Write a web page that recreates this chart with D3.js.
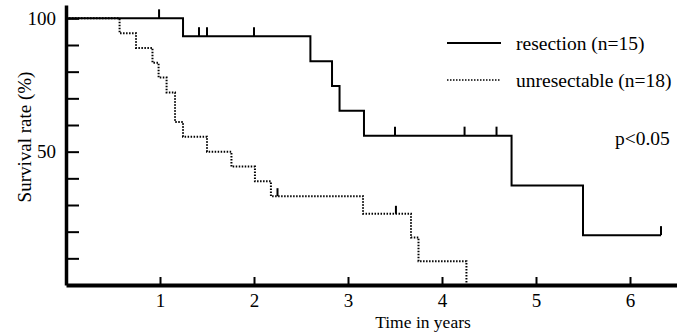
<!DOCTYPE html>
<html>
<head>
<meta charset="utf-8">
<script src="https://cdn.jsdelivr.net/npm/d3@7"></script>
<style>
  body { margin: 0; background: #fff; }
  svg { display: block; }
  text { font-family: "Liberation Serif", "Times New Roman", Times, serif; fill: #000; }
</style>
</head>
<body>
<svg id="chart" width="677" height="336"></svg>
<script>
'use strict';

var FONT = '"Liberation Serif", "Times New Roman", Times, serif';

// resection (n=15): step times (years) and survival (%) after each step
var resectionTimes = [0, 1.245, 2.6, 2.83, 2.91, 3.17, 4.74, 5.5];
var resectionSurv  = [100, 93.3, 83.9, 74.6, 65.3, 56.0, 37.3, 18.7];
var resectionEnd   = 6.33;
var resectionCensored = [0.99, 1.415, 1.5, 2.0, 3.5, 4.24, 4.58, 6.33];

// unresectable (n=18)
var unresTimes = [0, 0.57, 0.745, 0.92, 0.985, 1.07, 1.16, 1.245, 1.5, 1.76, 2.01, 2.18, 3.16, 3.67, 3.75, 4.26];
var unresSurv  = [100, 94.4, 88.9, 83.3, 77.8, 72.2, 61.1, 55.6, 50.0, 44.4, 38.9, 33.3, 26.7, 17.8, 8.9, 0];
var unresEnd   = 4.26;
var unresCensored = [2.25, 3.51];

var xTicks = [1, 2, 3, 4, 5, 6];
var yTicks = [10, 20, 30, 40, 50, 60, 70, 80, 90, 100];
var yLabels = [50, 100];

var legendNames = ['resection (n=15)', 'unresectable (n=18)'];

var svg = d3.select('#chart');

var x = d3.scaleLinear().domain([0, 6.5]).range([66, 677]);
var y = d3.scaleLinear().domain([0, 105]).range([285, 5]);

function toPoints(times, surv, end) {
  var pts = times.map(function(t, i) { return [t, surv[i]]; });
  pts.push([end, surv[surv.length - 1]]);
  return pts;
}

// value at time t for a step curve
function survAt(times, surv, t) {
  var v = surv[0];
  times.forEach(function(tt, i) { if (tt <= t) v = surv[i]; });
  return v;
}

var line = d3.line()
  .x(function(d) { return x(d[0]); })
  .y(function(d) { return y(d[1]); })
  .curve(d3.curveStepAfter);

// x axis
var xAxis = svg.append('g')
  .attr('transform', 'translate(0,' + y(0) + ')')
  .call(d3.axisBottom(x).tickValues(xTicks).tickSizeInner(-8).tickSizeOuter(0).tickPadding(9)
    .tickFormat(d3.format('d')));
xAxis.attr('font-family', FONT);
xAxis.select('.domain').attr('stroke-width', 4);
xAxis.selectAll('.tick line').attr('stroke-width', 2);
xAxis.selectAll('.tick text').attr('font-size', 19).attr('font-family', FONT).attr('fill', '#000');

// y axis
var yAxis = svg.append('g')
  .attr('transform', 'translate(' + x(0) + ',0)')
  .call(d3.axisLeft(y).tickValues(yTicks).tickSizeInner(-13).tickSizeOuter(0).tickPadding(10)
    .tickFormat(function(d) { return yLabels.indexOf(d) >= 0 ? d : ''; }));
yAxis.attr('font-family', FONT);
yAxis.select('.domain').attr('stroke-width', 3.5);
yAxis.selectAll('.tick line').attr('stroke-width', 2);
yAxis.selectAll('.tick text').attr('font-size', 19).attr('font-family', FONT).attr('fill', '#000')
  .attr('x', -10);

// curves
svg.append('path')
  .datum(toPoints(unresTimes, unresSurv, unresEnd))
  .attr('d', line)
  .attr('fill', 'none')
  .attr('stroke', '#000')
  .attr('stroke-width', 2)
  .attr('stroke-dasharray', '1.5,1.5');

svg.append('path')
  .datum(toPoints(resectionTimes, resectionSurv, resectionEnd))
  .attr('d', line)
  .attr('fill', 'none')
  .attr('stroke', '#000')
  .attr('stroke-width', 2);

// censor marks
svg.selectAll('.cens-r').data(resectionCensored).enter().append('line')
  .attr('class', 'cens-r')
  .attr('x1', function(d) { return x(d); })
  .attr('x2', function(d) { return x(d); })
  .attr('y1', function(d) { return y(survAt(resectionTimes, resectionSurv, d)); })
  .attr('y2', function(d) { return y(survAt(resectionTimes, resectionSurv, d)) - 9; })
  .attr('stroke', '#000').attr('stroke-width', 2);

svg.selectAll('.cens-u').data(unresCensored).enter().append('line')
  .attr('class', 'cens-u')
  .attr('x1', function(d) { return x(d); })
  .attr('x2', function(d) { return x(d); })
  .attr('y1', function(d) { return y(survAt(unresTimes, unresSurv, d)); })
  .attr('y2', function(d) { return y(survAt(unresTimes, unresSurv, d)) - 8; })
  .attr('stroke', '#000').attr('stroke-width', 2);

// legend
var legend = svg.append('g');
legendNames.forEach(function(name, i) {
  var ly = 43 + i * 37;
  legend.append('line')
    .attr('x1', 447).attr('x2', 501).attr('y1', ly).attr('y2', ly)
    .attr('stroke', '#000')
    .attr('stroke-width', i === 0 ? 2 : 1.5)
    .attr('stroke-dasharray', i === 0 ? null : '1.5,1.5');
  legend.append('text')
    .attr('x', 516).attr('y', ly + 7)
    .attr('font-family', FONT)
    .attr('font-size', 19.5)
    .text(name);
});

svg.append('text')
  .attr('x', 615).attr('y', 145)
  .attr('font-family', FONT)
  .attr('font-size', 19.5)
  .text('p<0.05');

// axis titles
svg.append('text')
  .attr('x', 423).attr('y', 327.5)
  .attr('text-anchor', 'middle')
  .attr('font-family', FONT)
  .attr('font-size', 17.5)
  .text('Time in years');

svg.append('text')
  .attr('transform', 'translate(31,137) rotate(-90)')
  .attr('text-anchor', 'middle')
  .attr('font-family', FONT)
  .attr('font-size', 19)
  .text('Survival rate (%)');
</script>
</body>
</html>
